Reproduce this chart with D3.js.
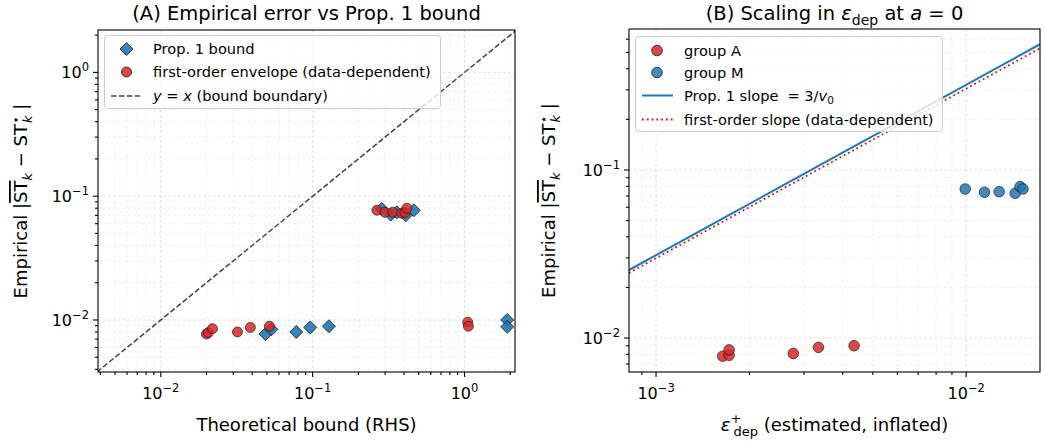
<!DOCTYPE html>
<html>
<head>
<meta charset="utf-8">
<script src="https://cdn.jsdelivr.net/npm/d3@7"></script>
<style>
  body { margin: 0; background: white; }
  text { font-family: "DejaVu Sans", sans-serif; fill: #000; }
</style>
</head>
<body>
<script>
// ---- data ----
// panel A: theoretical bound (x) vs empirical error (y)
var boundX = [0.0489, 0.0535, 0.078, 0.0964, 0.128, 1.91, 1.91, 0.285, 0.327, 0.358, 0.41, 0.464];
var boundY = [0.0077, 0.0084, 0.0080, 0.0087, 0.0089, 0.0100, 0.0088, 0.079, 0.071, 0.074, 0.070, 0.077];
var envX = [0.0200, 0.0205, 0.0219, 0.0320, 0.0389, 0.0519, 1.05, 1.06, 0.265, 0.299, 0.337, 0.386, 0.405, 0.417];
var envY = [0.0077, 0.0079, 0.0085, 0.0080, 0.0087, 0.0089, 0.0096, 0.0089, 0.0770, 0.0742, 0.0742, 0.0729, 0.0737, 0.0800];
var diagX = [0.0038, 2.2];

// panel B: eps_dep^+ (x) vs empirical error (y)
var groupAX = [0.00164, 0.00172, 0.00172, 0.00277, 0.00334, 0.00435];
var groupAY = [0.0078, 0.0079, 0.0085, 0.0081, 0.0088, 0.0090];
var groupMX = [0.00993, 0.01146, 0.01277, 0.01439, 0.01492, 0.01524];
var groupMY = [0.0771, 0.0737, 0.0743, 0.0727, 0.0796, 0.0771];
var slopeX = [0.000818, 0.0173];
var propSlopeY = [0.0254, 0.56];
var firstSlopeY = [0.0244, 0.53];

var RED = "#d62728", BLUE = "#1f77b4";

var svg = d3.select("body").append("svg")
  .attr("width", 1045)
  .attr("height", 444);

// write a math-ish label from segments {t, off, size, italic, over, dx}
function mathText(sel, segs, baseSize) {
  var prev = 0;
  segs.forEach(function (s) {
    var off = s.off || 0;
    var ts = sel.append("tspan")
      .text(s.t)
      .attr("dy", off - prev)
      .style("font-size", (s.size || baseSize) + "px");
    if (s.dx) ts.attr("dx", s.dx);
    if (s.italic) ts.style("font-style", "italic");
    if (s.over) ts.style("text-decoration", "overline");
    prev = off;
  });
}

function powLabel(sel, v) {
  var e = Math.round(Math.log10(v));
  mathText(sel, [
    {t: "10"},
    {t: (e < 0 ? "\u2212" : "") + Math.abs(e), off: -7, size: 11.5}
  ], 16);
}

function isMajor(v) {
  var l = Math.log10(v);
  return Math.abs(l - Math.round(l)) < 1e-9;
}

function makePanel(p) {
  var x = d3.scaleLog().domain(p.xd).range([p.left, p.right]);
  var y = d3.scaleLog().domain(p.yd).range([p.bottom, p.top]);
  var g = svg.append("g");

  var xt = x.ticks(), yt = y.ticks();
  var xMaj = xt.filter(isMajor), xMin = xt.filter(function (v) { return !isMajor(v); });
  var yMaj = yt.filter(isMajor), yMin = yt.filter(function (v) { return !isMajor(v); });

  // grid
  var grid = g.append("g").attr("fill", "none").attr("stroke-dasharray", "3,2");
  grid.selectAll(".gxm").data(xMin).enter().append("line")
    .attr("x1", x).attr("x2", x).attr("y1", p.top).attr("y2", p.bottom)
    .attr("stroke", "#b0b0b0").attr("stroke-opacity", 0.3).attr("stroke-width", 0.6);
  grid.selectAll(".gym").data(yMin).enter().append("line")
    .attr("y1", y).attr("y2", y).attr("x1", p.left).attr("x2", p.right)
    .attr("stroke", "#b0b0b0").attr("stroke-opacity", 0.3).attr("stroke-width", 0.6);
  grid.selectAll(".gxM").data(xMaj).enter().append("line")
    .attr("x1", x).attr("x2", x).attr("y1", p.top).attr("y2", p.bottom)
    .attr("stroke", "#b0b0b0").attr("stroke-opacity", 0.45).attr("stroke-width", 0.8);
  grid.selectAll(".gyM").data(yMaj).enter().append("line")
    .attr("y1", y).attr("y2", y).attr("x1", p.left).attr("x2", p.right)
    .attr("stroke", "#b0b0b0").attr("stroke-opacity", 0.45).attr("stroke-width", 0.8);

  var clipId = "clip" + p.name;
  svg.append("clipPath").attr("id", clipId).append("rect")
    .attr("x", p.left).attr("y", p.top)
    .attr("width", p.right - p.left).attr("height", p.bottom - p.top);
  var plot = g.append("g").attr("clip-path", "url(#" + clipId + ")");

  // ticks
  var ax = g.append("g").attr("stroke", "#000").attr("stroke-width", 1.1);
  ax.selectAll(".tx").data(xt).enter().append("line")
    .attr("x1", x).attr("x2", x).attr("y1", p.bottom)
    .attr("y2", function (d) { return p.bottom + (isMajor(d) ? 5 : 3); });
  ax.selectAll(".ty").data(yt).enter().append("line")
    .attr("y1", y).attr("y2", y).attr("x1", p.left)
    .attr("x2", function (d) { return p.left - (isMajor(d) ? 5 : 3); });

  xMaj.forEach(function (v) {
    var t = g.append("text").attr("x", x(v)).attr("y", p.bottom + 27)
      .attr("text-anchor", "middle");
    powLabel(t, v);
  });
  yMaj.forEach(function (v) {
    var t = g.append("text").attr("x", p.left - 9).attr("y", y(v) + 6)
      .attr("text-anchor", "end");
    powLabel(t, v);
  });

  g.append("rect")
    .attr("x", p.left).attr("y", p.top)
    .attr("width", p.right - p.left).attr("height", p.bottom - p.top)
    .attr("fill", "none").attr("stroke", "#000").attr("stroke-width", 1.1);

  // y label
  var yl = g.append("text")
    .attr("transform", "translate(" + p.ylx + "," + ((p.top + p.bottom) / 2) + ") rotate(-90)")
    .attr("text-anchor", "middle");
  mathText(yl, [
    {t: "Empirical |"},
    {t: "ST", over: true},
    {t: "k", off: 5, size: 13, italic: true},
    {t: " \u2212 ST", off: 0},
    {t: "\u22c6", off: -7, size: 13},
    {t: "k", off: 5, size: 13, italic: true, dx: -7},
    {t: " |", off: 0}
  ], 18);

  return {x: x, y: y, g: g, plot: plot};
}

function diamond(sel, s) {
  sel.attr("d", "M0," + (-s) + "L" + s + ",0L0," + s + "L" + (-s) + ",0Z");
}

// ---------------- panel A ----------------
var A = makePanel({
  name: "A", left: 98, right: 515, top: 30, bottom: 372,
  xd: [0.00386, 2.15], yd: [0.0038, 2.2], ylx: 27
});

A.plot.append("path")
  .datum(diagX)
  .attr("d", d3.line().x(function (d) { return A.x(d); }).y(function (d) { return A.y(d); }))
  .attr("stroke", "#444").attr("stroke-width", 1.5).attr("stroke-dasharray", "5.5,2.4")
  .attr("fill", "none");

A.plot.selectAll(".bd").data(boundX).enter().append("path")
  .call(diamond, 6.5)
  .attr("transform", function (d, i) { return "translate(" + A.x(d) + "," + A.y(boundY[i]) + ")"; })
  .attr("fill", BLUE).attr("fill-opacity", 0.9)
  .attr("stroke", "#1a1a1a").attr("stroke-width", 0.8);

A.plot.selectAll(".en").data(envX).enter().append("circle")
  .attr("cx", function (d) { return A.x(d); })
  .attr("cy", function (d, i) { return A.y(envY[i]); })
  .attr("r", 5)
  .attr("fill", RED).attr("fill-opacity", 0.85)
  .attr("stroke", "#1a1a1a").attr("stroke-opacity", 0.85).attr("stroke-width", 0.8);

svg.append("text").attr("x", 306.5).attr("y", 20).attr("text-anchor", "middle")
  .style("font-size", "19.5px").text("(A) Empirical error vs Prop. 1 bound");
svg.append("text").attr("x", 306.5).attr("y", 431).attr("text-anchor", "middle")
  .style("font-size", "18px").text("Theoretical bound (RHS)");

// legend A
var legA = svg.append("g");
legA.append("rect").attr("x", 104.5).attr("y", 35.5).attr("width", 336).attr("height", 73)
  .attr("rx", 3).attr("fill", "white").attr("fill-opacity", 0.8)
  .attr("stroke", "#cccccc").attr("stroke-width", 1);
legA.append("path").call(diamond, 6.5)
  .attr("transform", "translate(126.5,49)")
  .attr("fill", BLUE).attr("fill-opacity", 0.9).attr("stroke", "#1a1a1a").attr("stroke-width", 0.8);
legA.append("circle").attr("cx", 126.5).attr("cy", 72).attr("r", 5)
  .attr("fill", RED).attr("fill-opacity", 0.85).attr("stroke", "#1a1a1a").attr("stroke-width", 0.8);
legA.append("line").attr("x1", 111).attr("x2", 140).attr("y1", 96).attr("y2", 96)
  .attr("stroke", "#444").attr("stroke-width", 1.5).attr("stroke-dasharray", "5.5,2.4");
legA.append("text").attr("x", 153).attr("y", 54).style("font-size", "14.6px").text("Prop. 1 bound");
legA.append("text").attr("x", 153).attr("y", 77).style("font-size", "14.6px")
  .text("first-order envelope (data-dependent)");
var lt = legA.append("text").attr("x", 153).attr("y", 101);
mathText(lt, [
  {t: "y", italic: true},
  {t: " = "},
  {t: "x", italic: true},
  {t: " (bound boundary)"}
], 14.6);

// ---------------- panel B ----------------
var B = makePanel({
  name: "B", left: 629, right: 1040, top: 29, bottom: 372,
  xd: [0.000818, 0.0173], yd: [0.00628, 0.69], ylx: 555
});

var lineB = d3.line().x(function (d) { return B.x(d[0]); }).y(function (d) { return B.y(d[1]); });
B.plot.append("path")
  .datum(d3.zip(slopeX, propSlopeY))
  .attr("d", lineB)
  .attr("stroke", BLUE).attr("stroke-width", 2).attr("fill", "none");
B.plot.append("path")
  .datum(d3.zip(slopeX, firstSlopeY))
  .attr("d", lineB)
  .attr("stroke", "#e01010").attr("stroke-width", 1.8).attr("stroke-dasharray", "1.8,3")
  .attr("fill", "none");

B.plot.selectAll(".ga").data(groupAX).enter().append("circle")
  .attr("cx", function (d) { return B.x(d); })
  .attr("cy", function (d, i) { return B.y(groupAY[i]); })
  .attr("r", 5.3)
  .attr("fill", RED).attr("fill-opacity", 0.85)
  .attr("stroke", "#1a1a1a").attr("stroke-opacity", 0.85).attr("stroke-width", 0.8);
B.plot.selectAll(".gm").data(groupMX).enter().append("circle")
  .attr("cx", function (d) { return B.x(d); })
  .attr("cy", function (d, i) { return B.y(groupMY[i]); })
  .attr("r", 5.3)
  .attr("fill", BLUE).attr("fill-opacity", 0.85)
  .attr("stroke", "#1a1a1a").attr("stroke-opacity", 0.85).attr("stroke-width", 0.8);

var tB = svg.append("text").attr("x", 834.5).attr("y", 20).attr("text-anchor", "middle");
mathText(tB, [
  {t: "(B) Scaling in "},
  {t: "\u03b5", italic: true},
  {t: "dep", off: 5, size: 14},
  {t: " at ", off: 0},
  {t: "a", italic: true},
  {t: " = 0"}
], 19.5);

var xlB = svg.append("text").attr("x", 834.5).attr("y", 431).attr("text-anchor", "middle");
mathText(xlB, [
  {t: "\u03b5", italic: true},
  {t: "+", off: -8, size: 13},
  {t: "dep", off: 5, size: 13, dx: -8},
  {t: " (estimated, inflated)", off: 0}
], 18);

// legend B
var legB = svg.append("g");
legB.append("rect").attr("x", 635.5).attr("y", 36.5).attr("width", 307).attr("height", 95)
  .attr("rx", 3).attr("fill", "white").attr("fill-opacity", 0.8)
  .attr("stroke", "#cccccc").attr("stroke-width", 1);
legB.append("circle").attr("cx", 657).attr("cy", 50.5).attr("r", 5.3)
  .attr("fill", RED).attr("fill-opacity", 0.85).attr("stroke", "#1a1a1a").attr("stroke-width", 0.8);
legB.append("circle").attr("cx", 657).attr("cy", 72.5).attr("r", 5.3)
  .attr("fill", BLUE).attr("fill-opacity", 0.85).attr("stroke", "#1a1a1a").attr("stroke-width", 0.8);
legB.append("line").attr("x1", 642).attr("x2", 673).attr("y1", 95.5).attr("y2", 95.5)
  .attr("stroke", BLUE).attr("stroke-width", 2);
legB.append("line").attr("x1", 642).attr("x2", 673).attr("y1", 119.5).attr("y2", 119.5)
  .attr("stroke", "#e01010").attr("stroke-width", 1.8).attr("stroke-dasharray", "1.8,3");
legB.append("text").attr("x", 684).attr("y", 55.5).style("font-size", "14.6px").text("group A");
legB.append("text").attr("x", 684).attr("y", 77.5).style("font-size", "14.6px").text("group M");
var lp = legB.append("text").attr("x", 684).attr("y", 100.5);
mathText(lp, [
  {t: "Prop. 1 slope"},
  {t: "= 3/", dx: 9},
  {t: "v", italic: true},
  {t: "0", off: 3, size: 10.5}
], 14.6);
legB.append("text").attr("x", 684).attr("y", 124.5).style("font-size", "14.6px")
  .text("first-order slope (data-dependent)");
</script>
</body>
</html>
